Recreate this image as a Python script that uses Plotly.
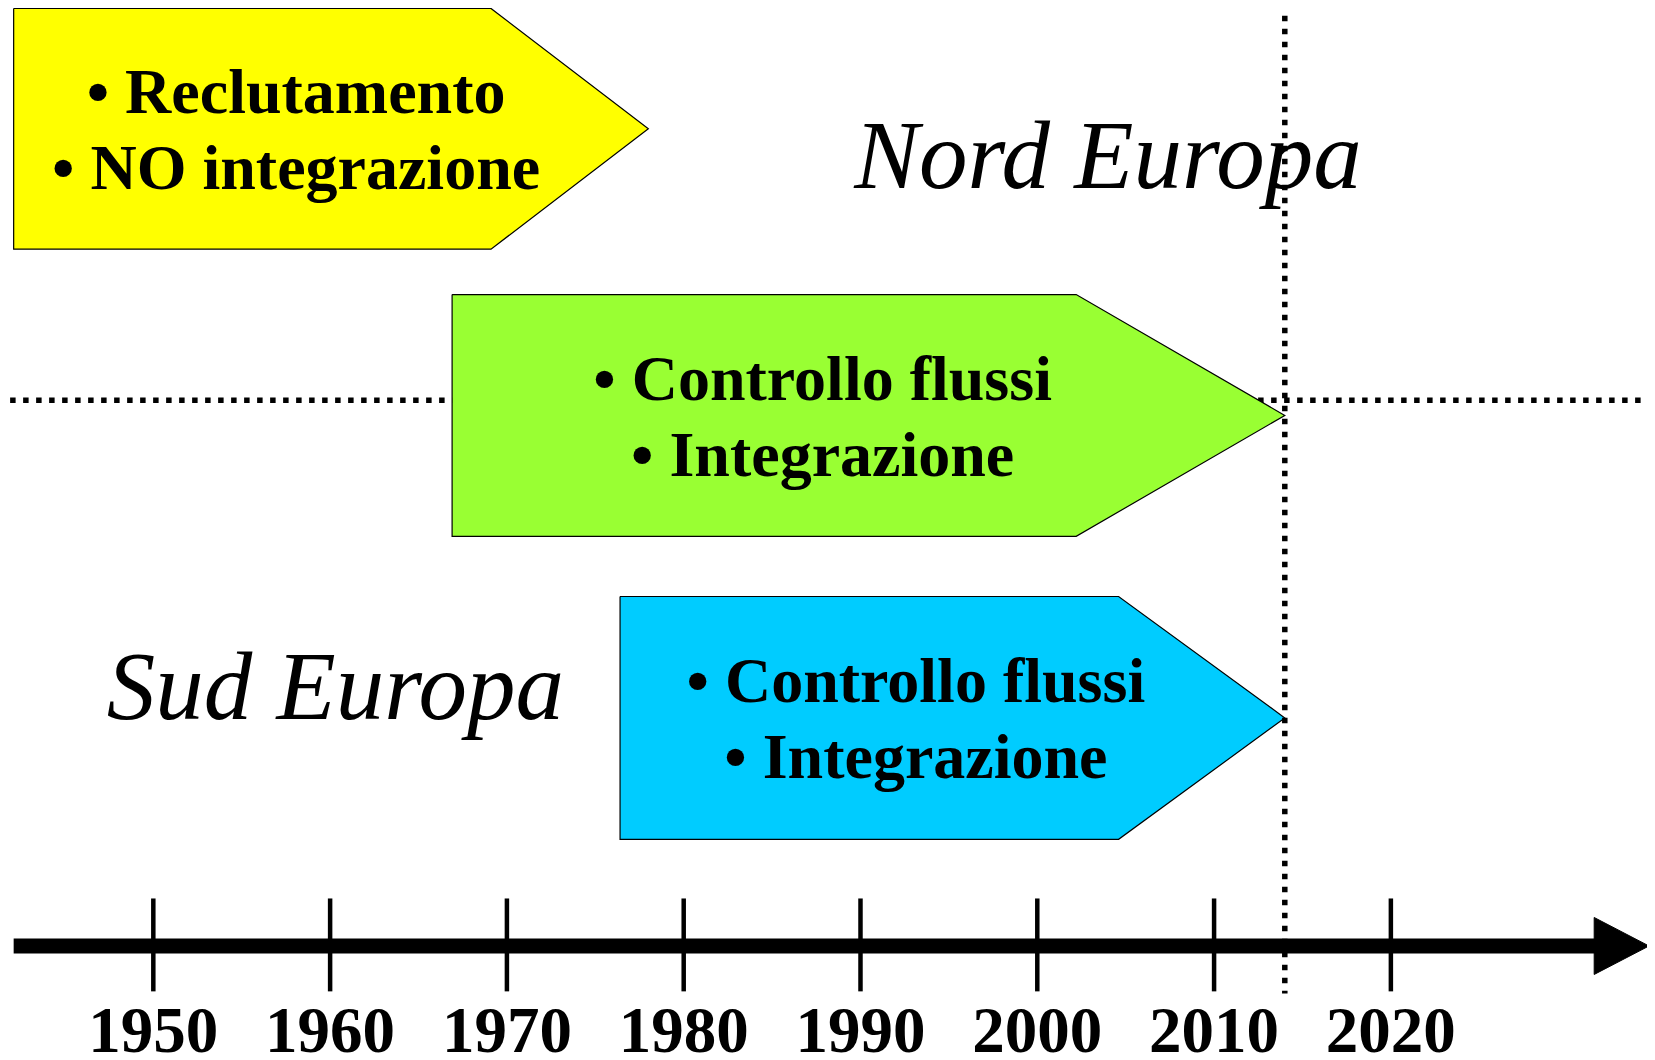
import plotly.graph_objects as go

# ---- data ----
tick_years = [1950, 1960, 1970, 1980, 1990, 2000, 2010, 2020]
tick_labels = ["1950", "1960", "1970", "1980", "1990", "2000", "2010", "2020"]

phase_names = ["Nord: reclutamento", "Nord: controllo", "Sud: controllo"]
phase_start = [1942.1, 1966.9, 1976.4]
phase_body_end = [1969.1, 2002.2, 2004.6]
phase_tip = [1978.0, 2014.0, 2014.0]
phase_colors = ["#FFFF00", "#99FF33", "#00CCFF"]
phase_line1 = ["• Reclutamento", "• Controllo flussi", "• Controllo flussi"]
phase_line2 = ["• NO integrazione", "• Integrazione", "• Integrazione"]

current_year = 2014.0
axis_start = 1942.1
axis_head = 2031.5
axis_end = 2034.6
region_labels = ["Nord Europa", "Sud Europa"]
region_years = [2004.0, 1960.3]

# ---- layout helpers (positions in display units; y grows downward) ----
# page body has an 8px margin: the figure is sized/ranged to compensate
X0, X1 = 1941.78, 2034.94
Y_TOP, Y_BOT = 7.58, 1004
box_top = [8, 279, 565]
box_bot = [236, 508, 795]
region_y = [155, 658]
axis_y = 896
DOT = dict(color="black", width=5.5, dash="5.5px,7.5px")

fig = go.Figure()

# horizontal dotted separator (behind the boxes)
fig.add_trace(go.Scatter(x=[1941.9, axis_end], y=[379, 379], mode="lines",
                         line=DOT, hoverinfo="skip"))

# phase arrows
for i in range(len(phase_names)):
    t, b = box_top[i], box_bot[i]
    m = (t + b) / 2
    xs = [phase_start[i], phase_body_end[i], phase_tip[i], phase_body_end[i], phase_start[i], phase_start[i]]
    ys = [t, t, m, b, b, t]
    fig.add_trace(go.Scatter(x=xs, y=ys, mode="lines", fill="toself",
                             fillcolor=phase_colors[i],
                             line=dict(color="black", width=1.2),
                             hoverinfo="skip"))
    cx = phase_start[i] + 0.445 * (phase_tip[i] - phase_start[i])
    fig.add_trace(go.Scatter(x=[cx, cx], y=[m - 30, m + 42], mode="text",
                             text=[phase_line1[i], phase_line2[i]],
                             textposition="middle center",
                             textfont=dict(family="Liberation Serif", size=64,
                                           color="black", weight="bold"),
                             hoverinfo="skip"))

# region labels
for i in range(len(region_labels)):
    fig.add_trace(go.Scatter(x=[region_years[i]], y=[region_y[i]], mode="text",
                             text=[region_labels[i]], textposition="middle center",
                             textfont=dict(family="Liberation Serif", size=97,
                                           color="black", style="italic"),
                             hoverinfo="skip"))

# timeline axis
fig.add_trace(go.Scatter(x=[axis_start, axis_head + 0.3], y=[axis_y, axis_y], mode="lines",
                         line=dict(color="black", width=15), hoverinfo="skip"))
fig.add_trace(go.Scatter(x=[axis_head, axis_end, axis_head, axis_head],
                         y=[axis_y - 27, axis_y, axis_y + 27, axis_y - 27],
                         mode="lines", fill="toself", fillcolor="black",
                         line=dict(color="black", width=1), hoverinfo="skip"))

# ticks
for yr in tick_years:
    fig.add_trace(go.Scatter(x=[yr, yr], y=[851, 939], mode="lines",
                             line=dict(color="black", width=4.5), hoverinfo="skip"))
fig.add_trace(go.Scatter(x=tick_years, y=[981] * len(tick_years), mode="text",
                         text=tick_labels, textposition="middle center",
                         textfont=dict(family="Liberation Serif", size=65,
                                       color="black", weight="bold"),
                         hoverinfo="skip"))

# current-year dotted vertical line (on top)
fig.add_trace(go.Scatter(x=[current_year, current_year], y=[15, 941], mode="lines",
                         line=DOT, hoverinfo="skip"))

fig.update_layout(
    width=1647, height=1052,
    margin=dict(l=0, r=0, t=0, b=0),
    paper_bgcolor="white", plot_bgcolor="white",
    showlegend=False,
    xaxis=dict(range=[X0, X1], visible=False, fixedrange=True),
    yaxis=dict(range=[Y_BOT, Y_TOP], visible=False, fixedrange=True),
)

fig.write_html("out.html")
